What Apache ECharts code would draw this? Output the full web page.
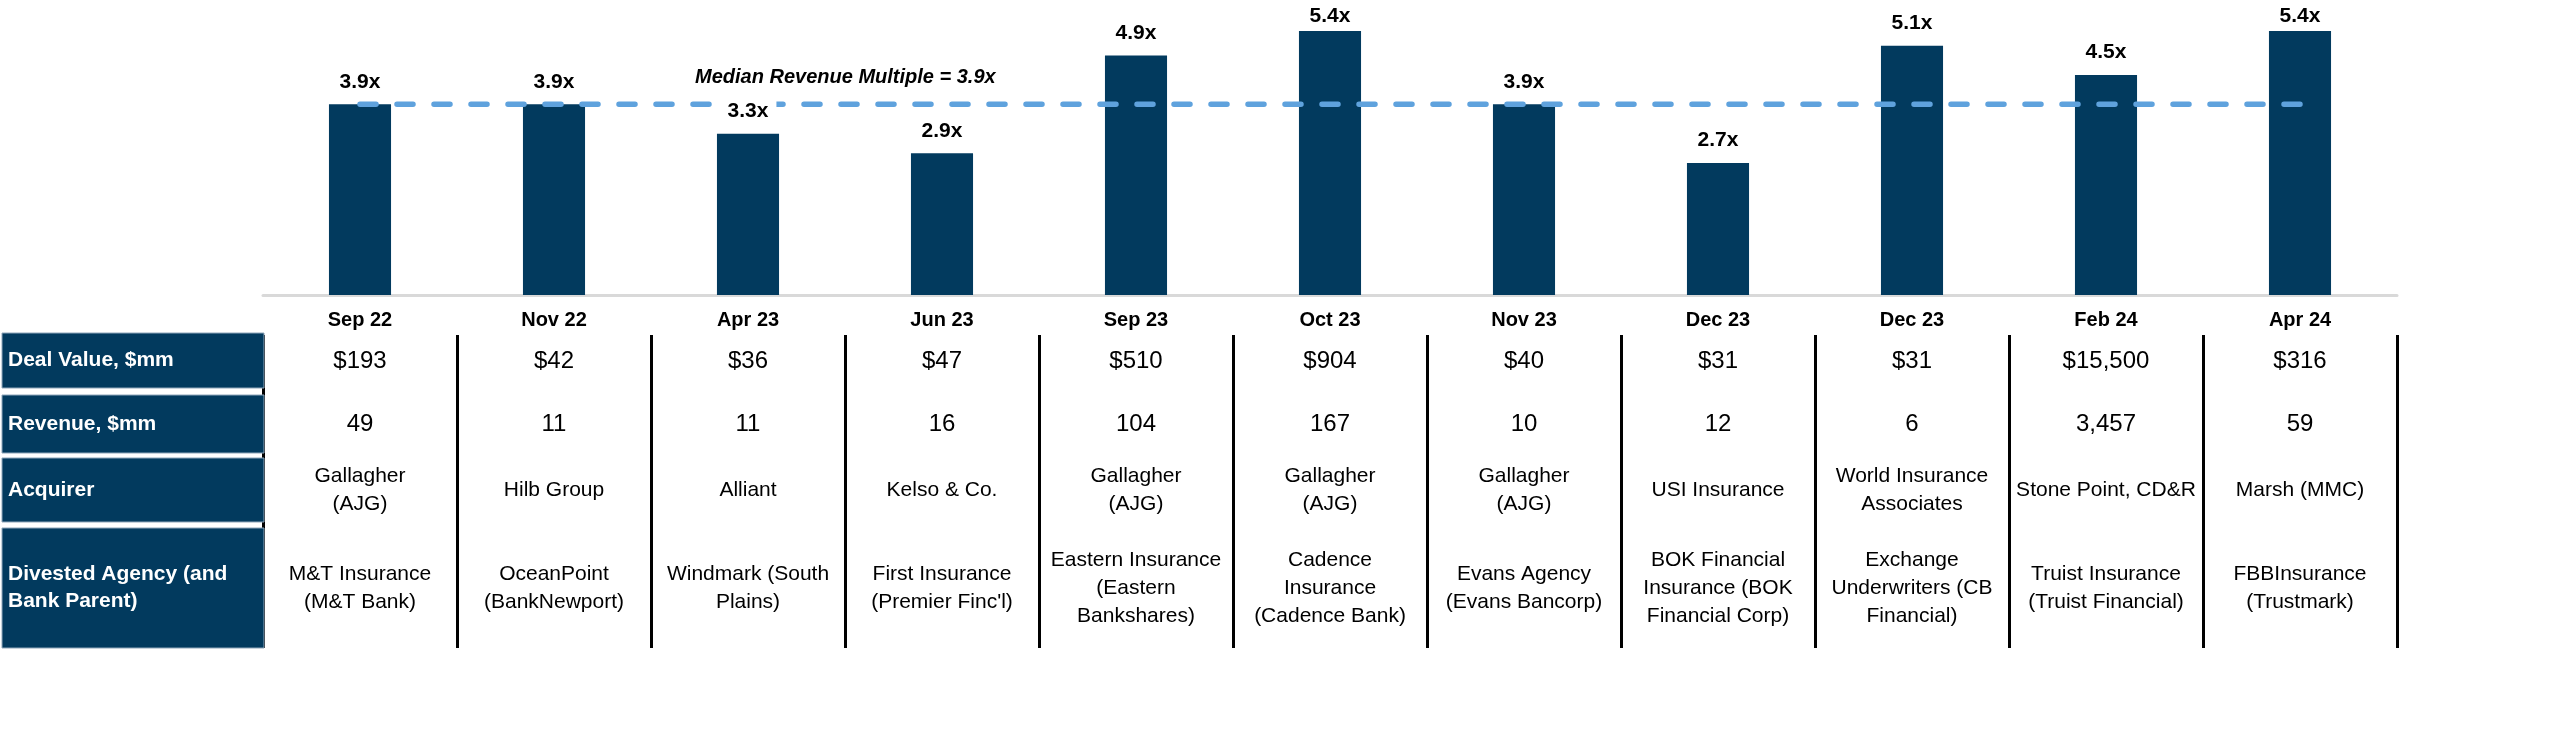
<!DOCTYPE html>
<html>
<head>
<meta charset="utf-8">
<script src="https://cdn.jsdelivr.net/npm/echarts@6/dist/echarts.min.js"></script>
<style>
html,body{margin:0;padding:0;background:#fff;}
#c{width:2560px;height:739px;}
</style>
</head>
<body>
<div id="c"></div>
<script>
const categories = ['Sep 22','Nov 22','Apr 23','Jun 23','Sep 23','Oct 23','Nov 23','Dec 23','Dec 23','Feb 24','Apr 24'];
const multiples = [3.9, 3.9, 3.3, 2.9, 4.9, 5.4, 3.9, 2.7, 5.1, 4.5, 5.4];
const medianMultiple = 3.9;
const dealValues = ['$193','$42','$36','$47','$510','$904','$40','$31','$31','$15,500','$316'];
const revenues = ['49','11','11','16','104','167','10','12','6','3,457','59'];
const acquirers = ['Gallagher\n(AJG)','Hilb Group','Alliant','Kelso & Co.','Gallagher\n(AJG)','Gallagher\n(AJG)','Gallagher\n(AJG)','USI Insurance','World Insurance\nAssociates','Stone Point, CD&R','Marsh (MMC)'];
const divested = ['M&T Insurance\n(M&T Bank)','OceanPoint\n(BankNewport)','Windmark (South\nPlains)','First Insurance\n(Premier Finc\'l)','Eastern Insurance\n(Eastern\nBankshares)','Cadence\nInsurance\n(Cadence Bank)','Evans Agency\n(Evans Bancorp)','BOK Financial\nInsurance (BOK\nFinancial Corp)','Exchange\nUnderwriters (CB\nFinancial)','Truist Insurance\n(Truist Financial)','FBBInsurance\n(Trustmark)'];
const rowHeaders = ['Deal Value, $mm','Revenue, $mm','Acquirer','Divested Agency (and\nBank Parent)'];

const FONT = '"Liberation Sans", Arial, sans-serif';
const NAVY = '#023A5E';
const yMax = 5.4;

const chart = echarts.init(document.getElementById('c'));

function rowAxis(data, offset, size) {
  return {
    type: 'category', gridIndex: 0, position: 'bottom', offset: offset, data: data,
    axisLine: {show: false}, axisTick: {show: false}, splitLine: {show: false},
    axisLabel: {interval: 0, margin: 0, verticalAlign: 'middle', fontFamily: FONT, fontSize: size,
      color: '#000', lineHeight: 28, hideOverlap: false}
  };
}

const rowBoxes = [[333, 388], [395, 453], [458, 522], [528, 648]];
const graphics = [];
rowBoxes.forEach((r, i) => {
  graphics.push({type: 'rect', z: 100, shape: {x: 2, y: r[0], width: 262, height: r[1] - r[0]},
    style: {fill: NAVY, stroke: '#8FA6BA', lineWidth: 1}});
  graphics.push({type: 'text', z: 101, x: 8, y: (r[0] + r[1]) / 2,
    style: {text: rowHeaders[i], fill: '#fff', font: 'bold 21px ' + FONT, verticalAlign: 'middle', align: 'left', lineHeight: 27}});
});

chart.setOption({
  animation: false,
  backgroundColor: '#fff',
  grid: [
    {left: 263, right: 163, top: 31, height: 264},
    {left: 263, right: 163, top: 335, height: 313}
  ],
  xAxis: [
    {type: 'category', gridIndex: 0, data: categories,
      axisLine: {show: true, lineStyle: {color: '#D9D9D9', width: 3}}, axisTick: {show: false},
      axisLabel: {interval: 0, margin: 15, fontFamily: FONT, fontSize: 20, fontWeight: 'bold', color: '#000'}},
    rowAxis(dealValues, 66, 24),
    rowAxis(revenues, 129, 24),
    rowAxis(acquirers, 195, 21),
    rowAxis(divested, 293, 21),
    {type: 'category', gridIndex: 1, data: categories, axisLine: {show: false}, axisTick: {show: false},
      axisLabel: {show: false}, splitLine: {show: true, lineStyle: {color: '#000', width: 3}}}
  ],
  yAxis: [
    {type: 'value', gridIndex: 0, min: 0, max: yMax, show: false, splitLine: {show: false}},
    {type: 'value', gridIndex: 1, show: false, splitLine: {show: false}}
  ],
  series: [{
    type: 'bar', xAxisIndex: 0, yAxisIndex: 0, barWidth: '32%', z: 2,
    itemStyle: {color: NAVY},
    data: multiples
  }, {
    // median reference line
    type: 'line', xAxisIndex: 0, yAxisIndex: 0, z: 5, silent: true,
    symbol: 'none', showSymbol: false,
    lineStyle: {color: '#5FA2DD', width: 5.5, type: [16, 21], cap: 'round'},
    data: categories.map(() => medianMultiple),
    markLine: {
      silent: true, symbol: 'none',
      lineStyle: {color: 'rgba(0,0,0,0)', width: 1, type: 'solid'},
      label: {show: true, position: 'insideStartTop', distance: [335, 17],
        formatter: 'Median Revenue Multiple = ' + medianMultiple.toFixed(1) + 'x',
        fontFamily: FONT, fontSize: 20, fontWeight: 'bold', fontStyle: 'italic', color: '#000'},
      data: [[{coord: [0, medianMultiple]}, {coord: [categories.length - 1, medianMultiple]}]]
    }
  }, {
    // transparent overlay carrying the value labels above the median line
    type: 'bar', xAxisIndex: 0, yAxisIndex: 0, barWidth: '32%', barGap: '-100%', z: 30, silent: true,
    itemStyle: {color: 'rgba(0,0,0,0)'},
    data: multiples.map(v => ({value: v, label: {distance: v >= yMax ? 4 : 12}})),
    label: {show: true, position: 'top', fontFamily: FONT, fontSize: 21, fontWeight: 'bold', color: '#000',
      backgroundColor: '#fff', padding: [9, 8, 0, 8],
      formatter: p => p.value.toFixed(1) + 'x'}
  }],
  graphic: graphics
});
</script>
</body>
</html>
